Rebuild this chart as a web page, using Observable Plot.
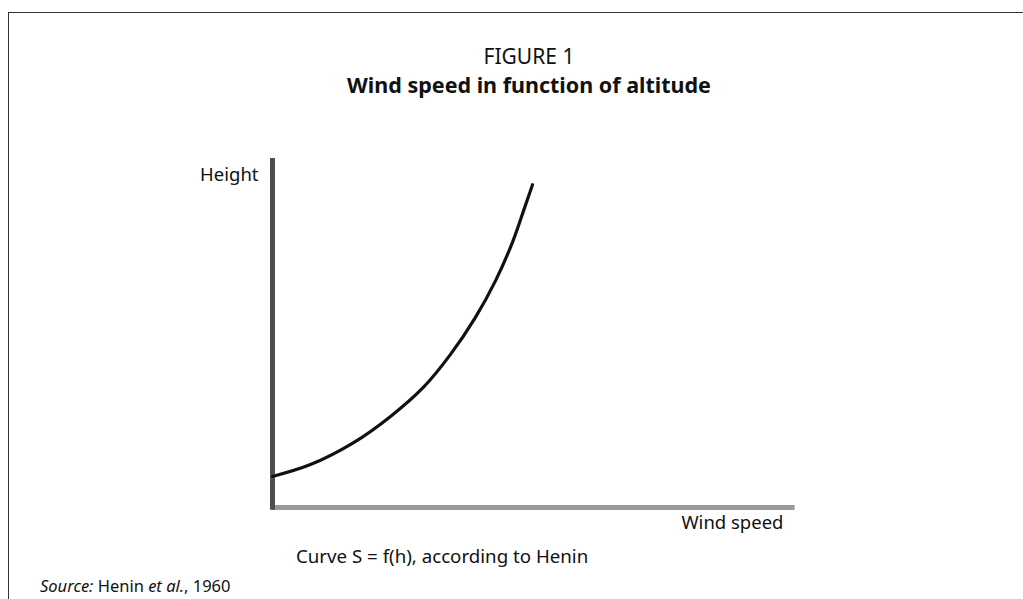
<!DOCTYPE html>
<html>
<head>
<meta charset="utf-8">
<script src="https://cdn.jsdelivr.net/npm/d3@7"></script>
<script src="https://cdn.jsdelivr.net/npm/@observablehq/plot@0.6"></script>
<style>
  html, body { margin: 0; padding: 0; background: #fff; overflow: hidden; }
  body { width: 1023px; height: 599px; position: relative; font-family: "Noto Sans", "Open Sans", sans-serif; color: #111; }
  #frame { position: absolute; left: 8px; top: 12px; width: 1040px; height: 620px; border: 1.5px solid #333; box-sizing: border-box; }
  .t { position: absolute; white-space: nowrap; line-height: 1; }
  #fig { left: 0; width: 1058px; top: 46px; text-align: center; font-size: 21px; }
  #title { left: 0; width: 1058px; top: 74px; text-align: center; font-size: 21.5px; font-weight: bold; }
  #chart { position: absolute; left: 0; top: 130px; }
  #curve { left: 296px; top: 547px; font-size: 18.7px; }
  #source { left: 40px; top: 578px; font-size: 16.5px; }
</style>
</head>
<body>
<div id="frame"></div>
<div class="t" id="fig">FIGURE 1</div>
<div class="t" id="title">Wind speed in function of altitude</div>
<div id="chart"></div>
<div class="t" id="curve">Curve S = f(h), according to Henin</div>
<div class="t" id="source"><i>Source:</i> Henin <i>et al.</i>, 1960</div>
<script>
// Curve S = f(h) (arbitrary units 0–10)
const windSpeed = [0, 0.73, 1.56, 2.27, 2.90, 3.42, 3.90, 4.29, 4.62, 4.85, 5.00];
const height    = [0.89, 1.23, 1.86, 2.61, 3.44, 4.38, 5.44, 6.50, 7.62, 8.60, 9.25];
const xLabel = "Wind speed";
const yLabel = "Height";

const data = windSpeed.map((s, i) => ({speed: s, height: height[i]}));

const chart = Plot.plot({
  width: 1023,
  height: 400,
  marginLeft: 272,
  marginRight: 231,
  marginTop: 28,
  marginBottom: 23,
  x: {domain: [0, 10], axis: null},
  y: {domain: [0, 10], axis: null},
  style: {fontFamily: "'Noto Sans', 'Open Sans', sans-serif", fontSize: "18.5px", color: "#111", background: "transparent", overflow: "visible"},
  marks: [
    Plot.ruleY([0], {x1: 0, x2: 10.05, stroke: "#9a9a9a", strokeWidth: 5}),
    Plot.ruleX([0], {y1: -0.08, y2: 10, stroke: "#4e4e4e", strokeWidth: 5}),
    Plot.line(data, {x: "speed", y: "height", curve: "catmull-rom", stroke: "#111", strokeWidth: 3.2}),
    Plot.text([yLabel], {frameAnchor: "top-left", lineAnchor: "middle", textAnchor: "end", dx: -14, dy: 17, fill: "#111", fontSize: 18.5}),
    Plot.text([xLabel], {frameAnchor: "bottom-right", lineAnchor: "middle", textAnchor: "end", dx: -9, dy: 16, fill: "#111", fontSize: 18.5})
  ]
});
document.getElementById("chart").appendChild(chart);
</script>
</body>
</html>
